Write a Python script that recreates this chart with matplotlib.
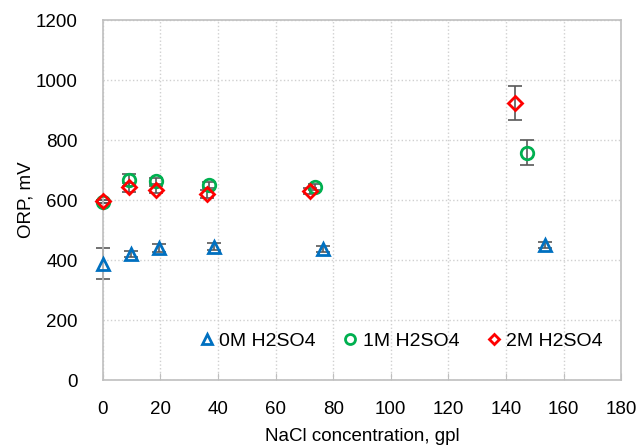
import matplotlib
matplotlib.use('agg')
import matplotlib.pyplot as plt

plt.rcParams['font.family'] = ['Liberation Sans', 'DejaVu Sans']

# 0M H2SO4
x_0m = [0, 9.7, 19.5, 38.6, 76.5, 153.6]
y_0m = [388, 421, 440, 444, 436, 450]
e_0m = [52, 10, 12, 12, 10, 10]

# 1M H2SO4
x_1m = [0, 9.1, 18.4, 36.9, 73.7, 147.2]
y_1m = [594, 667, 662, 649, 645, 758]
e_1m = [5, 20, 10, 10, 10, 41]

# 2M H2SO4
x_2m = [0, 9.1, 18.3, 36.0, 71.9, 143.2]
y_2m = [596, 643, 634, 620, 629, 924]
e_2m = [5, 15, 12, 12, 10, 57]

series = [
    (x_0m, y_0m, e_0m, '^', '#0070C0', '0M H2SO4'),
    (x_1m, y_1m, e_1m, 'o', '#00B050', '1M H2SO4'),
    (x_2m, y_2m, e_2m, 'D', '#FF0000', '2M H2SO4'),
]

fs = 13.5

fig = plt.figure(figsize=(6.39, 4.45), dpi=100)
ax = fig.add_axes([0.161, 0.146, 0.811, 0.809])

for xs, ys, es, mk, col, lab in series:
    ax.errorbar(xs, ys, yerr=es, fmt='none', ecolor='#595959', elinewidth=1.2,
                capsize=5, capthick=1.2, zorder=2, clip_on=False)
    ms = 7 if mk == 'D' else 9
    ax.plot(xs, ys, linestyle='none', marker=mk, markersize=ms, markerfacecolor='none',
            markeredgecolor=col, markeredgewidth=2, label=lab, zorder=3, clip_on=False)

ax.set_xlim(0, 180)
ax.set_ylim(0, 1200)
ax.set_xticks(range(0, 181, 20))
ax.set_yticks(range(0, 1201, 200))
ax.tick_params(labelsize=fs)
ax.tick_params(axis='x', direction='in', length=5, color='#BFBFBF', pad=15)
ax.tick_params(axis='y', length=0, pad=18)
ax.grid(True, linestyle=':', color='#D0D0D0', linewidth=1)
ax.set_axisbelow(True)
for s in ax.spines.values():
    s.set_color('#BFBFBF')
    s.set_linewidth(1.2)

ax.set_xlabel('NaCl concentration, gpl', fontsize=fs, labelpad=7)
ax.set_ylabel('ORP, mV', fontsize=fs, labelpad=1)

leg = ax.legend(loc='center left', bbox_to_anchor=(0.170, 0.108), ncol=3, frameon=False,
                fontsize=14, handlelength=0.8, handletextpad=0.25, columnspacing=1.36,
                markerscale=0.8, borderaxespad=0)

fig.savefig('out.png', dpi=100, facecolor='white')
